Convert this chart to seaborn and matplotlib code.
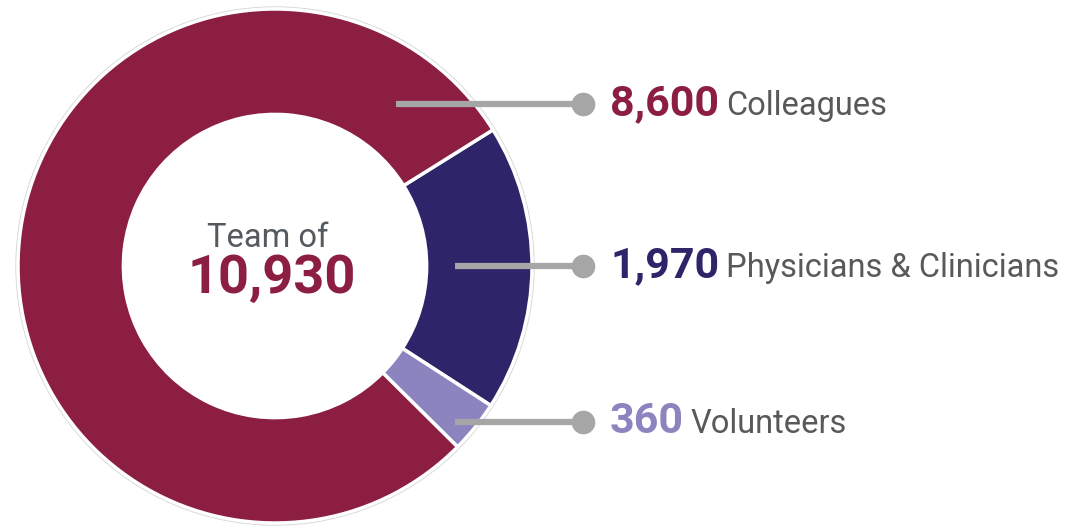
import matplotlib
matplotlib.use("Agg")
import matplotlib.pyplot as plt
import seaborn as sns
from matplotlib.patches import Circle

sns.set_theme(style="white")
plt.rcParams['font.family'] = ['Roboto', 'DejaVu Sans']

# ---- data ----
categories = ["Physicians & Clinicians", "Volunteers", "Colleagues"]
values = [1970, 360, 8600]
value_labels = ["1,970", "360", "8,600"]
colors = ["#2E2469", "#8B84BF", "#8B1E41"]
total_label = "10,930"
center_caption = "Team of"

W, H = 1082, 527
fig = plt.figure(figsize=(W / 100, H / 100), dpi=100)
ax = fig.add_axes([0, 0, 1, 1])
ax.set_xlim(0, W)
ax.set_ylim(0, H)
ax.set_aspect("equal")
ax.axis("off")

cx, cy, R = 275, H - 266, 257
ax.add_patch(Circle((cx, cy), R + 2, facecolor="none", edgecolor="#d9d9d9", lw=1, zorder=0))
ax.pie(values, colors=colors, startangle=32, counterclock=False, radius=R,
       center=(cx, cy),
       wedgeprops=dict(width=R * 0.41, edgecolor="white", linewidth=2.5))
ax.set_xlim(0, W)
ax.set_ylim(0, H)

ax.text(268, H - 247, center_caption, ha="center", va="baseline",
        fontsize=23.5, color="#555A5F")
ax.text(272, H - 293, total_label, ha="center", va="baseline",
        fontsize=39, fontweight="bold", color="#8B1E41")

# label rows: (line start x, line y) in pixels
rows = {"Colleagues": (396, 104), "Physicians & Clinicians": (455, 266), "Volunteers": (455, 422)}
for cat, val_lab, col in zip(categories, value_labels, colors):
    x0, ly = rows[cat]
    ax.plot([x0, 583], [H - ly, H - ly], color="#A6A6A6", lw=4.5,
            solid_capstyle="butt", zorder=5)
    ax.plot([583], [H - ly], "o", color="#A6A6A6", ms=16, zorder=6)
    t = ax.text(610, H - ly - 11, val_lab, ha="left", va="baseline",
                fontsize=31, fontweight="bold", color=col)
    ax.annotate(cat, xy=(1, H - ly - 11), xycoords=(t, "data"),
                xytext=(5, 0), textcoords="offset points",
                ha="left", va="baseline", fontsize=23.5, color="#595959")

fig.savefig("out.png", dpi=100)
